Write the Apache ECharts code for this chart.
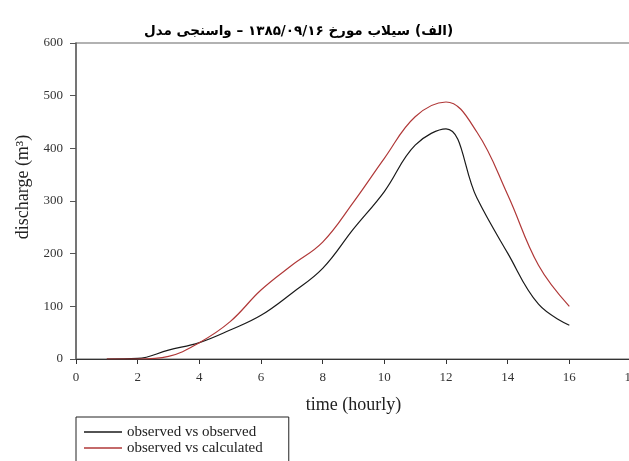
<!DOCTYPE html>
<html><head><meta charset="utf-8">
<script src="https://cdn.jsdelivr.net/npm/echarts@6/dist/echarts.min.js"></script>
<style>html,body{margin:0;padding:0;background:#fff}#c{width:629px;height:461px}</style>
</head><body><div id="c"></div>
<script>
const hours = [1, 2, 3, 4, 5, 6, 7, 8, 9, 10, 11, 12, 13, 14, 15, 16];
const observed = [0, 1, 17, 31, 55, 83, 125, 172, 247, 318, 406, 437, 306, 201, 104, 64];
const calculated = [0, 0, 5, 31, 71, 131, 178, 222, 298, 381, 460, 488, 431, 312, 178, 100];
const seriesNames = ['observed vs observed', 'observed vs calculated'];
const titleMain = 'سیلاب مورخ ۱۳۸۵/۰۹/۱۶ – واسنجی مدل';
const titleBold = '(الف)';
const xName = 'time (hourly)';
const yName = 'discharge (m³)';

const serif = '"Liberation Serif", "Times New Roman", serif';
const pair = arr => hours.map((h, i) => [h, arr[i]]);

const chart = echarts.init(document.getElementById('c'), null, {renderer: 'canvas'});
chart.setOption({
  animation: false,
  backgroundColor: '#fff',
  title: {
    text: '{n|' + titleMain + '} {b|' + titleBold + '}',
    left: 139, top: 17,
    textStyle: {
      rich: {
        n: {fontFamily: '"DejaVu Sans", sans-serif', fontSize: 13.5, color: '#000'},
        b: {fontFamily: '"DejaVu Sans", sans-serif', fontSize: 13.5, fontWeight: 'bold', color: '#000'}
      }
    }
  },
  grid: {left: 76, width: 555, top: 43, bottom: 102, outerBoundsMode: 'none', containLabel: false,
         show: true, borderColor: '#666', borderWidth: 1.2, backgroundColor: 'transparent'},
  legend: {
    orient: 'vertical', left: 76, top: 417, height: 90,
    data: seriesNames,
    icon: 'rect', itemWidth: 38, itemHeight: 1.3, itemGap: 0,
    padding: [7, 26, 20, 8],
    borderColor: '#222', borderWidth: 1,
    textStyle: {fontFamily: serif, fontSize: 15, lineHeight: 16, color: '#222'}
  },
  xAxis: {
    type: 'value', min: 0, max: 18, interval: 2,
    name: xName, nameLocation: 'middle', nameGap: 37,
    nameTextStyle: {fontFamily: serif, fontSize: 18, color: '#222'},
    axisLine: {show: true, lineStyle: {color: '#333', width: 1.2}},
    axisTick: {show: true, length: 5, lineStyle: {color: '#333'}},
    axisLabel: {fontFamily: serif, fontSize: 13, color: '#333', margin: 12},
    splitLine: {show: false}
  },
  yAxis: {
    type: 'value', min: 0, max: 600, interval: 100,
    name: yName, nameLocation: 'middle', nameRotate: 90, nameGap: 39,
    nameTextStyle: {fontFamily: serif, fontSize: 18, color: '#222', padding: [0, 0, 0, 28]},
    axisLine: {show: true, lineStyle: {color: '#666', width: 1.5}},
    axisTick: {show: true, length: 6, lineStyle: {color: '#555'}},
    axisLabel: {fontFamily: serif, fontSize: 13, color: '#333', margin: 13},
    splitLine: {show: false}
  },
  series: [
    {name: seriesNames[0], type: 'line', data: pair(observed), smooth: 0.4, symbol: 'none',
     lineStyle: {color: '#1a1a1a', width: 1.2}, itemStyle: {color: '#1a1a1a'}},
    {name: seriesNames[1], type: 'line', data: pair(calculated), smooth: 0.4, symbol: 'none',
     lineStyle: {color: '#b03838', width: 1.2}, itemStyle: {color: '#b03838'}}
  ]
});
</script>
</body></html>
